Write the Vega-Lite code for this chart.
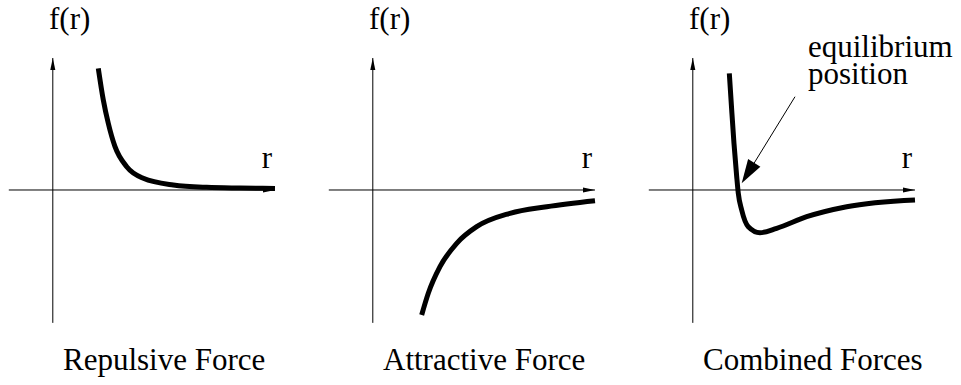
{
  "$schema": "https://vega.github.io/schema/vega-lite/v6.json",
  "padding": 0,
  "spacing": 0,
  "background": "white",
  "config": {"view": {"stroke": null}},
  "data": {"values": [
    {"panel": 1, "kind": "axis", "r": -1.0, "f": 0, "r2": 5.05, "f2": 0},
    {"panel": 1, "kind": "axis", "r": 0, "f": -3.02, "r2": 0, "f2": 3.0},
    {"panel": 1, "kind": "yhead", "r": 0, "f": 3.0},
    {"panel": 1, "kind": "xhead", "r": 5.05, "f": 0},
    {"panel": 2, "kind": "axis", "r": -1.0, "f": 0, "r2": 5.05, "f2": 0},
    {"panel": 2, "kind": "axis", "r": 0, "f": -3.02, "r2": 0, "f2": 3.0},
    {"panel": 2, "kind": "yhead", "r": 0, "f": 3.0},
    {"panel": 2, "kind": "xhead", "r": 5.05, "f": 0},
    {"panel": 3, "kind": "axis", "r": -1.0, "f": 0, "r2": 5.05, "f2": 0},
    {"panel": 3, "kind": "axis", "r": 0, "f": -3.02, "r2": 0, "f2": 3.0},
    {"panel": 3, "kind": "yhead", "r": 0, "f": 3.0},
    {"panel": 3, "kind": "xhead", "r": 5.05, "f": 0},

    {"panel": 1, "kind": "curve", "r": 1.034, "f": 2.766},
    {"panel": 1, "kind": "curve", "r": 1.148, "f": 2.045},
    {"panel": 1, "kind": "curve", "r": 1.261, "f": 1.516},
    {"panel": 1, "kind": "curve", "r": 1.414, "f": 0.984},
    {"panel": 1, "kind": "curve", "r": 1.68, "f": 0.53},
    {"panel": 1, "kind": "curve", "r": 2.057, "f": 0.266},
    {"panel": 1, "kind": "curve", "r": 2.739, "f": 0.114},
    {"panel": 1, "kind": "curve", "r": 3.498, "f": 0.061},
    {"panel": 1, "kind": "curve", "r": 4.255, "f": 0.045},
    {"panel": 1, "kind": "curve", "r": 5.05, "f": 0.035},

    {"panel": 2, "kind": "curve", "r": 1.111, "f": -2.841},
    {"panel": 2, "kind": "curve", "r": 1.261, "f": -2.348},
    {"panel": 2, "kind": "curve", "r": 1.527, "f": -1.743},
    {"panel": 2, "kind": "curve", "r": 1.907, "f": -1.211},
    {"panel": 2, "kind": "curve", "r": 2.361, "f": -0.834},
    {"panel": 2, "kind": "curve", "r": 3.118, "f": -0.53},
    {"panel": 2, "kind": "curve", "r": 3.952, "f": -0.38},
    {"panel": 2, "kind": "curve", "r": 5.05, "f": -0.243},

    {"panel": 3, "kind": "curve", "r": 0.83, "f": 2.652},
    {"panel": 3, "kind": "curve", "r": 0.884, "f": 1.818},
    {"panel": 3, "kind": "curve", "r": 0.936, "f": 1.061},
    {"panel": 3, "kind": "curve", "r": 0.998, "f": 0.302},
    {"panel": 3, "kind": "curve", "r": 1.034, "f": -0.075},
    {"panel": 3, "kind": "curve", "r": 1.111, "f": -0.455},
    {"panel": 3, "kind": "curve", "r": 1.261, "f": -0.834},
    {"panel": 3, "kind": "curve", "r": 1.527, "f": -0.97},
    {"panel": 3, "kind": "curve", "r": 1.907, "f": -0.87},
    {"panel": 3, "kind": "curve", "r": 2.589, "f": -0.607},
    {"panel": 3, "kind": "curve", "r": 3.498, "f": -0.38},
    {"panel": 3, "kind": "curve", "r": 5.05, "f": -0.227},

    {"panel": 3, "kind": "pointer", "r": 2.323, "f": 2.12, "r2": 1.23, "f2": 0.345},
    {"panel": 3, "kind": "pointerhead", "r": 1.111, "f": 0.152},

    {"panel": 1, "kind": "label", "r": -0.086, "f": 3.66, "text": "f(r)"},
    {"panel": 1, "kind": "label", "r": 4.75, "f": 0.5, "text": "r"},
    {"panel": 1, "kind": "label", "r": 0.232, "f": -4.09, "text": "Repulsive Force"},
    {"panel": 2, "kind": "label", "r": -0.086, "f": 3.66, "text": "f(r)"},
    {"panel": 2, "kind": "label", "r": 4.75, "f": 0.5, "text": "r"},
    {"panel": 2, "kind": "label", "r": 0.232, "f": -4.09, "text": "Attractive Force"},
    {"panel": 3, "kind": "label", "r": -0.086, "f": 3.66, "text": "f(r)"},
    {"panel": 3, "kind": "label", "r": 4.75, "f": 0.5, "text": "r"},
    {"panel": 3, "kind": "label", "r": 0.232, "f": -4.09, "text": "Combined Forces"},
    {"panel": 3, "kind": "label", "r": 2.618, "f": 3.03, "text": "equilibrium"},
    {"panel": 3, "kind": "label", "r": 2.618, "f": 2.41, "text": "position"}
  ]},
  "facet": {
    "column": {"field": "panel", "type": "ordinal", "sort": "ascending", "header": {"title": null, "labels": false}}
  },
  "spec": {
    "width": 320,
    "height": 385,
    "encoding": {
      "x": {"field": "r", "type": "quantitative", "scale": {"domain": [-1.2, 6.073], "nice": false, "zero": false}, "axis": null},
      "y": {"field": "f", "type": "quantitative", "scale": {"domain": [-4.432, 4.318], "nice": false, "zero": false}, "axis": null}
    },
    "layer": [
      {
        "transform": [{"filter": "datum.kind == 'axis' || datum.kind == 'pointer'"}],
        "mark": {"type": "rule", "color": "black", "strokeWidth": 1},
        "encoding": {"x2": {"field": "r2"}, "y2": {"field": "f2"}}
      },
      {
        "transform": [{"filter": "datum.kind == 'yhead'"}],
        "mark": {"type": "point", "shape": "M0,0L-0.42,2L0.42,2Z", "filled": true, "color": "black", "opacity": 1, "size": 144, "angle": 0, "strokeWidth": 0}
      },
      {
        "transform": [{"filter": "datum.kind == 'xhead'"}],
        "mark": {"type": "point", "shape": "M0,0L-0.42,2L0.42,2Z", "filled": true, "color": "black", "opacity": 1, "size": 144, "angle": 90, "strokeWidth": 0}
      },
      {
        "transform": [{"filter": "datum.kind == 'pointerhead'"}],
        "mark": {"type": "point", "shape": "M0,0L-0.6,2L0.6,2Z", "filled": true, "color": "black", "opacity": 1, "size": 576, "angle": 211.6, "strokeWidth": 0}
      },
      {
        "transform": [{"filter": "datum.kind == 'curve'"}],
        "mark": {"type": "line", "color": "black", "strokeWidth": 5, "interpolate": "monotone", "strokeCap": "butt"},
        "encoding": {"order": {"field": "r", "type": "quantitative"}}
      },
      {
        "transform": [{"filter": "datum.kind == 'label'"}],
        "mark": {"type": "text", "font": "'Liberation Serif', 'Times New Roman', Times, serif", "fontSize": 31, "color": "black", "align": "left", "baseline": "alphabetic"},
        "encoding": {"text": {"field": "text", "type": "nominal"}}
      }
    ]
  }
}
